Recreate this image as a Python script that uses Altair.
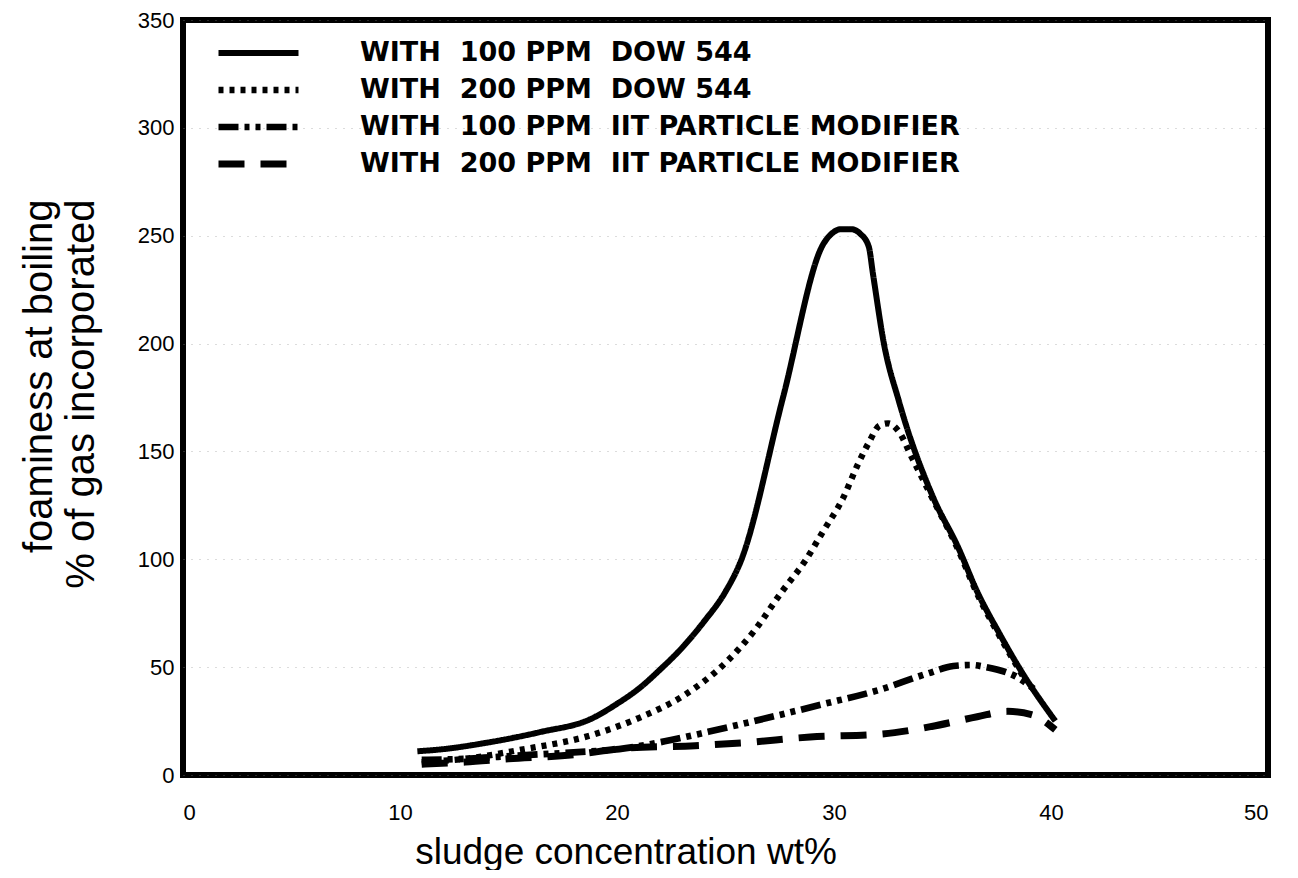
import altair as alt
import pandas as pd

NB = "\u00a0\u00a0"
series_names = [
    "WITH" + NB + "100 PPM" + NB + "DOW 544",
    "WITH" + NB + "200 PPM" + NB + "DOW 544",
    "WITH" + NB + "100 PPM" + NB + "IIT PARTICLE MODIFIER",
    "WITH" + NB + "200 PPM" + NB + "IIT PARTICLE MODIFIER",
]

# 100 PPM DOW 544 (solid)
s1_x = [10.8, 12.0, 13.9, 16.5, 18.8, 20.0, 21.0, 22.0, 23.0, 24.0, 25.0, 25.7, 27.65, 29.5, 29.9, 30.3, 30.8, 31.2, 31.6, 31.8, 32.3, 33.0, 34.6, 35.7, 36.6, 37.6, 38.7, 40.2]
s1_y = [11.0, 12.0, 14.8, 20.0, 26.0, 33.0, 40.0, 49.0, 59.0, 71.0, 85.0, 99.0, 175.0, 246.0, 251.0, 253.0, 253.0, 251.0, 245.0, 232.0, 200.0, 173.0, 128.0, 106.0, 85.0, 66.0, 47.0, 25.0]
# 200 PPM DOW 544 (dotted)
s2_x = [11.0, 13.0, 15.4, 18.9, 21.0, 23.1, 25.1, 26.3, 27.6, 28.7, 29.5, 30.4, 31.1, 31.6, 32.1, 32.5, 33.0, 33.6, 34.6, 35.7, 36.6, 37.6, 38.7]
s2_y = [6.0, 7.5, 11.4, 18.7, 26.4, 37.0, 53.0, 66.5, 85.0, 99.7, 113.0, 128.0, 144.0, 154.0, 162.0, 163.0, 159.0, 147.0, 127.0, 105.0, 84.0, 65.0, 46.0]
# 100 PPM IIT PARTICLE MODIFIER (dash-dot-dot)
s3_x = [11.0, 13.0, 15.4, 18.0, 20.1, 22.2, 24.2, 26.9, 29.4, 32.1, 34.3, 35.5, 36.3, 37.0, 38.5, 39.2]
s3_y = [7.0, 7.5, 9.0, 10.5, 12.0, 15.6, 20.0, 26.4, 32.6, 39.5, 47.0, 50.5, 51.0, 50.0, 45.0, 40.0]
# 200 PPM IIT PARTICLE MODIFIER (dashed)
s4_x = [11.0, 13.0, 15.0, 18.0, 20.5, 23.6, 25.9, 28.9, 32.2, 34.5, 36.6, 38.0, 39.1, 40.2]
s4_y = [5.0, 6.0, 7.5, 9.4, 12.5, 13.6, 15.0, 17.6, 19.0, 22.5, 27.0, 29.5, 28.0, 21.0]

x_ticks = [0, 10, 20, 30, 40, 50]
y_ticks = [0, 50, 100, 150, 200, 250, 300, 350]

rows = []
for name, xs, ys in zip(series_names, [s1_x, s2_x, s3_x, s4_x], [s1_y, s2_y, s3_y, s4_y]):
    for i, (xv, yv) in enumerate(zip(xs, ys)):
        rows.append({"series": name, "x": xv, "y": yv, "order": i})
df = pd.DataFrame(rows)

FONT = "Liberation Sans"
widths = [6, 7, 6.5, 7]


def build(round_caps):
    if round_caps:
        dashes = [[1, 0], [0.1, 11], [16, 9, 0.1, 9, 0.1, 9], [20, 22]]
    else:
        dashes = [[1, 0], [5, 6], [20, 6, 5, 6, 5, 6], [26, 16]]
    legend_kwargs = dict(
        title=None, orient="none", legendX=32, legendY=14.75,
        symbolType="stroke", symbolSize=6400, symbolStrokeWidth=5,
        symbolStrokeColor="black", labelFontSize=27, labelFont="DejaVu Sans",
        labelFontWeight="bold", labelColor="black", labelOffset=58,
        rowPadding=0, clipHeight=36.5, labelLimit=900, padding=0,
    )
    if round_caps:
        legend_kwargs["encode"] = {"symbols": {"strokeCap": {"value": "round"}}}
    line = alt.Chart(df).mark_line(
        color="black",
        strokeCap="round" if round_caps else "butt",
        strokeJoin="round", interpolate="monotone",
    ).encode(
        x=alt.X("x:Q", scale=alt.Scale(domain=[0, 50], nice=False),
                axis=alt.Axis(values=x_ticks, title="sludge concentration wt%",
                              titleX=442.5, titleY=88, titleAlign="center",
                              titleBaseline="alphabetic", titleFontSize=37,
                              labelPadding=27, grid=False)),
        y=alt.Y("y:Q", scale=alt.Scale(domain=[0, 350], nice=False),
                axis=alt.Axis(values=y_ticks,
                              title=["foaminess at boiling", "% of gas incorporated"],
                              titleX=-132, titleY=179, titleAlign="right",
                              titleBaseline="alphabetic", titleLineHeight=42,
                              titleAngle=270, titleFontSize=40,
                              labelPadding=9, grid=True)),
        strokeDash=alt.StrokeDash("series:N",
                                  scale=alt.Scale(domain=series_names, range=dashes),
                                  legend=alt.Legend(**legend_kwargs)),
        strokeWidth=alt.StrokeWidth("series:N",
                                    scale=alt.Scale(domain=series_names, range=widths),
                                    legend=None),
        order="order:Q",
    )
    return line.properties(
        width=1085, height=755,
        padding={"left": 175, "top": 12, "right": 20, "bottom": 95},
        autosize="none", background="white",
    ).configure_view(stroke="black", strokeWidth=6).configure_axis(
        domain=False, ticks=False, labelFont=FONT, labelFontSize=22,
        labelColor="black", titleFont=FONT,
        titleFontWeight="normal", titleColor="black",
        gridColor="#888888", gridDash=[1, 7], gridWidth=1, gridOpacity=0.6,
    )


try:
    chart = build(True)
    chart.to_dict()
except Exception:
    chart = build(False)

chart.save("out.html", embed_options={"renderer": "svg", "actions": False})
